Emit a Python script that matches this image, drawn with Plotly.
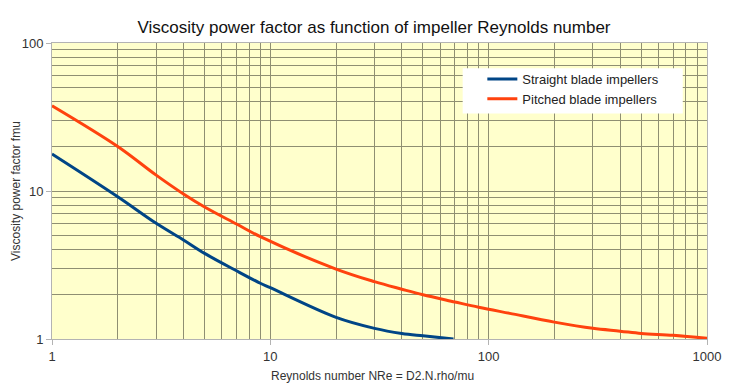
import plotly.graph_objects as go

title = "Viscosity power factor as function of impeller Reynolds number"
x_title = "Reynolds number NRe = D2.N.rho/mu"
y_title = "Viscosity power factor fmu"

straight_name = "Straight blade impellers"
straight_x = [1, 2, 3, 4, 5, 7, 9, 10, 20, 30, 40, 50, 69]
straight_y = [17.8, 9.15, 6.05, 4.67, 3.79, 2.89, 2.38, 2.22, 1.40, 1.18, 1.09, 1.05, 1.0]

pitched_name = "Pitched blade impellers"
pitched_x = [1, 2, 3, 4, 5, 7, 9, 20, 30, 40, 50, 70, 90, 125, 200, 300, 400, 500, 700, 1000]
pitched_y = [37.7, 20.0, 12.8, 9.55, 7.8, 5.98, 4.91, 2.97, 2.44, 2.17, 1.99, 1.78, 1.64, 1.49,
             1.30, 1.18, 1.13, 1.09, 1.06, 1.01]

x_ticks = [1, 10, 100, 1000]
y_ticks = [1, 10, 100]
x_minor = [m * d for d in (1, 10, 100) for m in range(2, 10)]
y_minor = [m * d for d in (1, 10) for m in range(2, 10)]

grid_col = "#8f8f72"
frame_col = "#b3b3b3"
font = "Liberation Sans, Arial, sans-serif"

# page body has an 8px default margin; figure is sized to fill the rest of the window
W, H = 740, 379

fig = go.Figure()
fig.add_trace(go.Scatter(x=straight_x, y=straight_y, mode="lines", name=straight_name,
                         line=dict(color="#004586", width=3, shape="spline")))
fig.add_trace(go.Scatter(x=pitched_x, y=pitched_y, mode="lines", name=pitched_name,
                         line=dict(color="#ff420e", width=3, shape="spline")))

fig.update_layout(
    width=W, height=H,
    margin=dict(l=44, r=41, t=35, b=48, autoexpand=False),
    paper_bgcolor="white", plot_bgcolor="#ffffcc",
    font=dict(family=font, size=12, color="#333333"),
    title=dict(text=title, xref="container", x=(374 - 8) / W, xanchor="center",
               yref="container", y=1 - (27 - 8) / H, yanchor="middle",
               font=dict(size=17, color="#111111")),
    legend=dict(x=0.657, y=0.929, xanchor="left", yanchor="top",
                bgcolor="rgba(0,0,0,0)", borderwidth=0,
                font=dict(size=13, color="#222222")),
    showlegend=True,
    shapes=[dict(type="rect", xref="paper", yref="paper", x0=0.627, x1=0.963, y0=0.762, y1=0.915,
                 fillcolor="white", line=dict(width=0), layer="above")],
    annotations=[
        dict(text=x_title, xref="paper", yref="paper", x=0.49, y=-0.125, xanchor="center",
             yanchor="middle", showarrow=False, font=dict(size=12, color="#333333")),
        dict(text=y_title, xref="paper", yref="paper", x=-36 / 655, y=0.5, xanchor="center",
             yanchor="middle", showarrow=False, textangle=-90, font=dict(size=12, color="#333333")),
    ],
)
fig.update_xaxes(type="log", range=[0, 3], tickvals=x_ticks, ticktext=[str(v) for v in x_ticks],
                 showgrid=True, gridcolor=grid_col, gridwidth=1, automargin=False,
                 ticks="outside", ticklen=5, tickcolor=frame_col,
                 showline=True, linecolor=frame_col, mirror=True, zeroline=False,
                 minor=dict(tickvals=x_minor, showgrid=True, gridcolor=grid_col, gridwidth=1, ticks=""),
                 tickfont=dict(size=13, color="#333333"))
fig.update_yaxes(type="log", range=[0, 2], tickvals=y_ticks, ticktext=[str(v) for v in y_ticks],
                 showgrid=True, gridcolor=grid_col, gridwidth=1, automargin=False,
                 ticks="outside", ticklen=5, tickcolor=frame_col,
                 showline=True, linecolor=frame_col, mirror=True, zeroline=False,
                 minor=dict(tickvals=y_minor, showgrid=True, gridcolor=grid_col, gridwidth=1, ticks=""),
                 tickfont=dict(size=13, color="#333333"))

fig.write_html("out.html")
